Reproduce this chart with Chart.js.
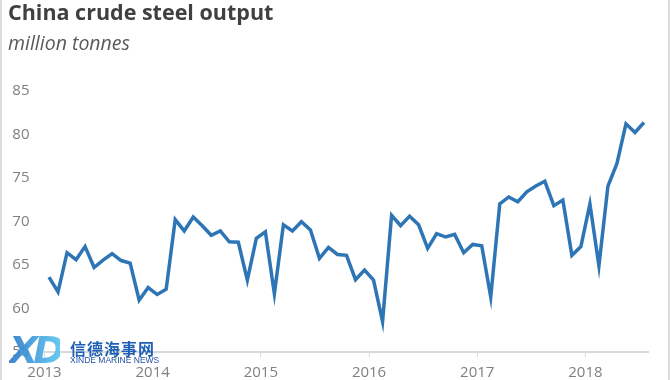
<!DOCTYPE html>
<html lang="en">
<head>
  <meta charset="UTF-8" />
  <title>China crude steel output</title>
  <script src="https://cdn.jsdelivr.net/npm/chart.js"></script>
  <style>
    body {
      margin: 0;
      background: #fff;
      font-family: 'Open Sans', sans-serif;
    }

    .wrap {
      position: relative;
      width: 670px;
      height: 380px;
      overflow: hidden;
    }

    .wrap canvas {
      position: absolute;
      left: 0;
      top: 0;
    }

    .edge {
      position: absolute;
      top: 0;
      width: 2px;
      height: 380px;
      background: #dcdcdc;
    }

    .title {
      position: absolute;
      left: 8px;
      top: 1px;
      font-size: 21.5px;
      line-height: 21px;
      font-weight: 700;
      color: #404040;
      white-space: nowrap;
    }

    .subtitle {
      position: absolute;
      left: 8px;
      top: 33px;
      font-size: 19.5px;
      line-height: 19px;
      font-style: italic;
      color: #595959;
      white-space: nowrap;
    }

    /* watermark */
    .logo-xd {
      position: absolute;
      left: 9px;
      top: 328px;
      font: italic 900 38px 'DejaVu Sans', sans-serif;
      letter-spacing: -5px;
      background: linear-gradient(90deg, #2a78c8, #58c4f0);
      -webkit-background-clip: text;
      background-clip: text;
      color: transparent;
      opacity: 0.9;
    }

    .logo-cn {
      position: absolute;
      left: 70px;
      top: 339px;
      font: 700 16px 'Noto Sans CJK SC', sans-serif;
      line-height: 18px;
      letter-spacing: 1px;
      color: #1f5fb4;
    }

    .logo-en {
      position: absolute;
      left: 70px;
      top: 356px;
      font: 8.5px 'Liberation Sans', sans-serif;
      line-height: 9px;
      color: #1f4f9f;
      white-space: nowrap;
    }
  </style>
</head>
<body>
  <div class="wrap">
    <canvas id="steel" width="670" height="380"></canvas>
    <div class="edge" style="left:0"></div>
    <div class="edge" style="left:668px"></div>
    <div class="title">China crude steel output</div>
    <div class="subtitle">million tonnes</div>
    <div class="logo-xd">XD</div>
    <div class="logo-cn">信德海事网</div>
    <div class="logo-en">XINDE MARINE NEWS</div>
  </div>

  <script>
    // year labels, one tick at the start of each year
    const yearLabels = ['2013', '2014', '2015', '2016', '2017', '2018'];

    // monthly output, Jan 2013 .. Jul 2018 (million tonnes)
    const output2013 = [63.6, 61.9, 66.4, 65.6, 67.1, 64.7, 65.55, 66.3, 65.5, 65.2, 60.95, 62.4];
    const output2014 = [61.6, 62.2, 70.2, 68.9, 70.5, 69.5, 68.4, 68.9, 67.65, 67.6, 63.25, 68.05];
    const output2015 = [68.8, 61.7, 69.6, 68.9, 69.95, 69.0, 65.75, 67.0, 66.2, 66.1, 63.3, 64.4];
    const output2016 = [63.25, 58.5, 70.7, 69.5, 70.6, 69.6, 66.9, 68.6, 68.2, 68.5, 66.4, 67.35];
    const output2017 = [67.2, 61.3, 72.0, 72.8, 72.25, 73.4, 74.05, 74.6, 71.8, 72.45, 66.1, 67.1];
    const output2018 = [72.0, 64.9, 74.05, 76.65, 81.2, 80.2, 81.35];

    const output = [].concat(output2013, output2014, output2015, output2016, output2017, output2018);
    const points = output.map((v, i) => ({ x: i, y: v }));

    new Chart(document.getElementById('steel'), {
      type: 'line',
      data: {
        datasets: [{
          data: points,
          borderColor: '#2e75b6',
          borderWidth: 3.5,
          pointRadius: 0,
          tension: 0,
          fill: false
        }]
      },
      options: {
        responsive: false,
        animation: false,
        layout: { padding: { top: 90.7, right: 21.5, left: 0, bottom: 0 } },
        plugins: {
          legend: { display: false },
          tooltip: { enabled: false }
        },
        scales: {
          x: {
            type: 'linear',
            min: -0.5,
            max: output.length - 0.5,
            afterBuildTicks: s => {
              s.ticks = yearLabels.map((y, k) => ({ value: k * 12 - 0.5 }));
            },
            afterFit: s => { s.height = 28; },
            ticks: {
              callback: (v, i) => yearLabels[i],
              autoSkip: false,
              maxRotation: 0,
              color: '#808080',
              font: { family: 'Open Sans', size: 15 },
              padding: 7
            },
            grid: { drawOnChartArea: false, drawTicks: true, tickLength: 5, color: '#d9d9d9', lineWidth: 1 },
            border: { color: '#d9d9d9', width: 2 }
          },
          y: {
            min: 55,
            max: 85,
            afterFit: s => { s.width = 44.5; },
            ticks: {
              stepSize: 5,
              color: '#808080',
              font: { family: 'Open Sans', size: 15 },
              padding: 15
            },
            grid: { display: false, drawTicks: false },
            border: { display: false }
          }
        }
      }
    });
  </script>
</body>
</html>
